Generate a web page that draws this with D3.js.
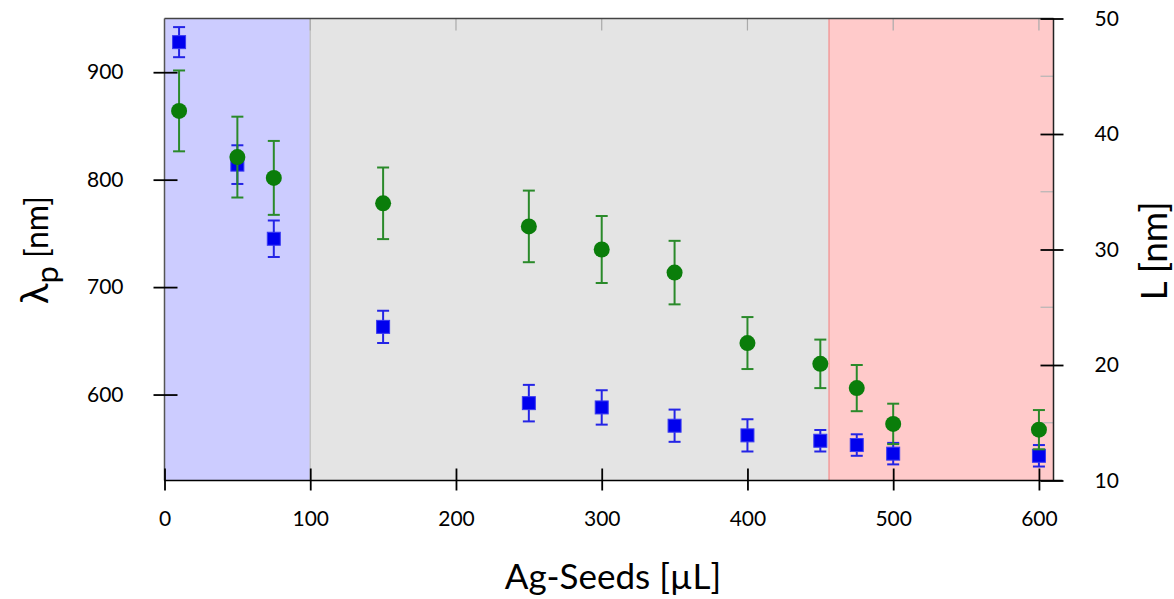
<!DOCTYPE html>
<html>
<head>
<meta charset="utf-8">
<script src="https://cdn.jsdelivr.net/npm/d3@7"></script>
<style>
  html, body { margin: 0; padding: 0; background: #ffffff; }
  svg { display: block; }
  text { font-family: Lato, "Open Sans", "Liberation Sans", sans-serif; fill: #000; }
</style>
</head>
<body>
<svg id="chart" width="1174" height="599"></svg>
<script>
// ---- data ----
const agSeeds      = [10, 50, 75, 150, 250, 300, 350, 400, 450, 475, 500, 600];
const lambdaP      = [928, 814, 745, 663, 592, 588, 571, 562, 557, 553, 545, 543];
const lambdaPErr   = [14, 18, 17, 15, 17, 16, 15, 15, 10, 10, 10, 10];
const lengthL      = [42, 38, 36.2, 34, 32, 30, 28, 21.9, 20.1, 18, 14.9, 14.4];
const lengthLErr   = [3.5, 3.5, 3.2, 3.1, 3.1, 2.9, 2.75, 2.25, 2.1, 2.0, 1.75, 1.7];

const regionStart  = [0, 100, 456];
const regionEnd    = [100, 456, 610];
const regionColor  = ["#ccccff", "#e4e4e4", "#ffcaca"];
const regionEdge   = ["#c4c4c4", "#c4c4c4", "#f29a9a"];

const xTicks       = [0, 100, 200, 300, 400, 500, 600];
const leftTicks    = [600, 700, 800, 900];
const rightTicks   = [10, 20, 30, 40, 50];
const rightMinor   = [15, 25, 35, 45];

// ---- layout ----
const svg = d3.select("#chart");
const L0 = 164.5, R0 = 1053.5, T0 = 18.5, B0 = 480.5;

const x  = d3.scaleLinear().domain([0, 610]).range([L0, R0]);
const yL = d3.scaleLinear().domain([520, 950]).range([B0, T0]);
const yR = d3.scaleLinear().domain([10, 50]).range([B0, T0]);

// background regions
svg.append("g").selectAll("rect").data(regionStart).join("rect")
  .attr("x", (d) => x(d))
  .attr("y", T0)
  .attr("width", (d, i) => x(regionEnd[i]) - x(d))
  .attr("height", B0 - T0)
  .attr("fill", (d, i) => regionColor[i]);

// region boundary lines
svg.append("g").selectAll("line").data(regionStart.slice(1)).join("line")
  .attr("x1", (d) => x(d)).attr("x2", (d) => x(d))
  .attr("y1", T0).attr("y2", B0)
  .attr("stroke", (d, i) => regionEdge[i + 1])
  .attr("stroke-width", 1.5);

// top minor ticks (light)
svg.append("g").selectAll("line").data(xTicks.slice(1)).join("line")
  .attr("x1", (d) => x(d)).attr("x2", (d) => x(d))
  .attr("y1", T0).attr("y2", T0 + 12)
  .attr("stroke", "#aaaaaa").attr("stroke-width", 1.2);

// right minor ticks (light)
svg.append("g").selectAll("line").data(rightMinor).join("line")
  .attr("x1", R0 - 13).attr("x2", R0)
  .attr("y1", (d) => yR(d)).attr("y2", (d) => yR(d))
  .attr("stroke", "#b5b5b5").attr("stroke-width", 1.2);

// frame: top + left + right spines
svg.append("line").attr("x1", L0).attr("x2", R0).attr("y1", T0).attr("y2", T0)
  .attr("stroke", "#444").attr("stroke-width", 1.5);
svg.append("line").attr("x1", L0).attr("x2", L0).attr("y1", T0).attr("y2", B0)
  .attr("stroke", "#555").attr("stroke-width", 1.5);
svg.append("line").attr("x1", R0).attr("x2", R0).attr("y1", T0).attr("y2", B0)
  .attr("stroke", "#222").attr("stroke-width", 1.5);

// bottom axis
const gx = svg.append("g").attr("transform", `translate(0,${B0})`)
  .call(d3.axisBottom(x).tickValues(xTicks).tickSize(10).tickPadding(28).tickFormat(d3.format("d")));
gx.select(".domain").attr("d", `M${L0},0H${R0 + 9}`).attr("stroke", "#000").attr("stroke-width", 1.5);
gx.selectAll(".tick line").attr("y1", -12).attr("y2", 10).attr("stroke", "#000").attr("stroke-width", 1.8);
gx.selectAll(".tick text").attr("font-size", 21).attr("dy", "0.72em").attr("y", 30);

// left axis
const gl = svg.append("g").attr("transform", `translate(${L0},0)`)
  .call(d3.axisLeft(yL).tickValues(leftTicks).tickSize(10).tickPadding(31));
gl.select(".domain").remove();
gl.selectAll(".tick line").attr("x1", -11).attr("x2", 13).attr("stroke", "#000").attr("stroke-width", 1.8);
gl.selectAll(".tick text").attr("font-size", 21);

// right axis
const gr = svg.append("g").attr("transform", `translate(${R0},0)`)
  .call(d3.axisRight(yR).tickValues(rightTicks).tickSize(10).tickPadding(31));
gr.select(".domain").remove();
gr.selectAll(".tick line").attr("x1", -13).attr("x2", 10).attr("stroke", "#000").attr("stroke-width", 1.8);
gr.selectAll(".tick text").attr("font-size", 21);

// ---- series ----
const idx = d3.range(agSeeds.length);
const capW = 6;

function errorBars(g, yScale, vals, errs, color) {
  const eb = g.append("g").attr("stroke", color).attr("stroke-width", 2);
  eb.selectAll("line.v").data(idx).join("line").attr("class", "v")
    .attr("x1", (i) => x(agSeeds[i])).attr("x2", (i) => x(agSeeds[i]))
    .attr("y1", (i) => yScale(vals[i] + errs[i])).attr("y2", (i) => yScale(vals[i] - errs[i]));
  eb.selectAll("line.t").data(idx).join("line").attr("class", "t")
    .attr("x1", (i) => x(agSeeds[i]) - capW).attr("x2", (i) => x(agSeeds[i]) + capW)
    .attr("y1", (i) => yScale(vals[i] + errs[i])).attr("y2", (i) => yScale(vals[i] + errs[i]));
  eb.selectAll("line.b").data(idx).join("line").attr("class", "b")
    .attr("x1", (i) => x(agSeeds[i]) - capW).attr("x2", (i) => x(agSeeds[i]) + capW)
    .attr("y1", (i) => yScale(vals[i] - errs[i])).attr("y2", (i) => yScale(vals[i] - errs[i]));
}

// blue squares: lambda_p (left axis)
const gBlue = svg.append("g");
errorBars(gBlue, yL, lambdaP, lambdaPErr, "#2424e6");
const sq = 13;
gBlue.selectAll("rect").data(idx).join("rect")
  .attr("x", (i) => x(agSeeds[i]) - sq / 2)
  .attr("y", (i) => yL(lambdaP[i]) - sq / 2)
  .attr("width", sq).attr("height", sq)
  .attr("fill", "#0000ee").attr("stroke", "#3a3af0").attr("stroke-width", 1);

// green circles: L (right axis)
const gGreen = svg.append("g");
errorBars(gGreen, yR, lengthL, lengthLErr, "#2a8a2a");
gGreen.selectAll("circle").data(idx).join("circle")
  .attr("cx", (i) => x(agSeeds[i]))
  .attr("cy", (i) => yR(lengthL[i]))
  .attr("r", 8)
  .attr("fill", "#0a7d0a");

// ---- axis titles ----
svg.append("text")
  .attr("x", 613).attr("y", 589)
  .attr("text-anchor", "middle")
  .attr("font-size", 35)
  .text("Ag-Seeds [µL]");

const lt = svg.append("text")
  .attr("transform", `translate(48,250) rotate(-90)`)
  .attr("text-anchor", "middle")
  .attr("font-size", 32);
lt.append("tspan").attr("font-size", 38).text("λ");
lt.append("tspan").attr("dy", 10).attr("font-size", 31).text("p");
lt.append("tspan").attr("dy", -10).text(" [nm]");

svg.append("text")
  .attr("transform", `translate(1167,251) rotate(-90)`)
  .attr("text-anchor", "middle")
  .attr("font-size", 37)
  .text("L [nm]");
</script>
</body>
</html>
